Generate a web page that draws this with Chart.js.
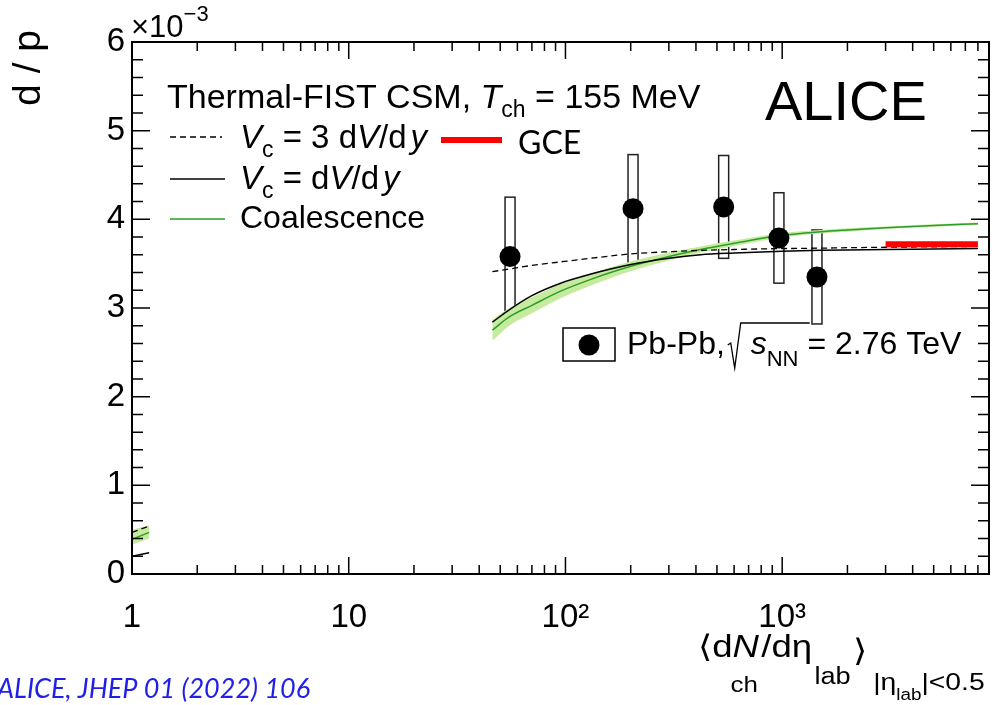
<!DOCTYPE html>
<html>
<head>
<meta charset="utf-8">
<script src="https://cdn.jsdelivr.net/npm/chart.js@4"></script>
<style>
  html, body { margin: 0; padding: 0; background: #fff; }
  #wrap { width: 992px; height: 705px; }
</style>
</head>
<body>
<div id="wrap"><canvas id="chart-dp" width="992" height="705"></canvas></div>
<script>
const SANS = '"Liberation Sans", Arial, sans-serif';
const ROUND = 'Lato, "Open Sans", sans-serif';

// Pb-Pb 2.76 TeV, d/p in units of 1e-3
const mult = [55.5, 205, 537, 966, 1447];
const ratio = [3.58, 4.12, 4.14, 3.79, 3.35];
const sysErr = [0.67, 0.61, 0.58, 0.51, 0.53];

// model curves: a short piece at low multiplicity and the main range
const modelLowX = [1, 1.2];
const modelX = [46, 55, 70, 95, 130, 200, 300, 420, 600, 1000, 1500, 2000, 3000, 5000, 8000];

const csm3Low = [0.47, 0.54];
const csm3 = [3.41, 3.44, 3.48, 3.52, 3.56, 3.61, 3.635, 3.65, 3.66, 3.67, 3.675, 3.68, 3.685, 3.69, 3.695];
const csm1Low = [0.20, 0.24];
const csm1 = [2.84, 2.98, 3.14, 3.28, 3.38, 3.49, 3.56, 3.60, 3.62, 3.64, 3.65, 3.655, 3.66, 3.665, 3.67];
const coalLow = [0.39, 0.47];
const coal = [2.75, 2.90, 3.03, 3.19, 3.32, 3.47, 3.58, 3.66, 3.73, 3.82, 3.86, 3.88, 3.905, 3.93, 3.95];
const coalUpperLow = [0.50, 0.55];
const coalUpper = [2.87, 3.00, 3.12, 3.27, 3.39, 3.525, 3.625, 3.695, 3.76, 3.845, 3.88, 3.90, 3.92, 3.945, 3.965];
const coalLowerLow = [0.33, 0.40];
const coalLower = [2.63, 2.80, 2.94, 3.11, 3.25, 3.415, 3.535, 3.625, 3.70, 3.795, 3.84, 3.86, 3.89, 3.915, 3.935];

// grand-canonical limit
const gceX = [3000, 8000];
const gce = [3.72, 3.72];

const xTickLabels = { 1: '1', 10: '10', 100: '10²', 1000: '10³' };

function series(lowY, highY) {
    return modelLowX.map((x, i) => ({ x, y: lowY[i] }))
        .concat([{ x: 10, y: null }], modelX.map((x, i) => ({ x, y: highY[i] })));
}

// draws a run of text pieces (sub/superscripts, italics) left to right;
// a piece marked keep does not move the pen
function richText(ctx, x, y, runs) {
    let cx = x;
    for (const r of runs) {
        ctx.font = (r.i ? 'italic ' : '') + r.s + 'px ' + (r.f || SANS);
        const px = cx + (r.dx || 0);
        ctx.fillText(r.t, px, y + (r.dy || 0));
        if (!r.keep) cx = px + ctx.measureText(r.t).width;
    }
    return cx;
}

function line(ctx, x1, y1, x2, y2, color, width, dash) {
    ctx.save();
    ctx.strokeStyle = color;
    ctx.lineWidth = width;
    ctx.setLineDash(dash || []);
    ctx.beginPath();
    ctx.moveTo(x1, y1);
    ctx.lineTo(x2, y2);
    ctx.stroke();
    ctx.restore();
}

const rootStyle = {
    id: 'rootStyle',
    beforeDatasetsDraw(chart) {
        // systematic uncertainty boxes
        const { ctx, scales: { x, y } } = chart;
        ctx.save();
        ctx.strokeStyle = '#222';
        ctx.lineWidth = 1.5;
        mult.forEach((m, i) => {
            const px = x.getPixelForValue(m);
            const top = y.getPixelForValue(ratio[i] + sysErr[i]);
            const bot = y.getPixelForValue(ratio[i] - sysErr[i]);
            ctx.strokeRect(px - 5, top, 10, bot - top);
        });
        ctx.restore();
    },
    afterDraw(chart) {
        const { ctx, chartArea: a, scales: { x, y } } = chart;
        ctx.save();

        // frame and inward ticks
        ctx.strokeStyle = '#000';
        ctx.lineWidth = 2;
        ctx.strokeRect(a.left, a.top, a.right - a.left, a.bottom - a.top);
        ctx.lineWidth = 1.5;
        ctx.beginPath();
        for (let k = 1; k < 30; k++) {
            const py = y.getPixelForValue(k / 5);
            const len = k % 5 === 0 ? 18 : 11;
            ctx.moveTo(a.left, py); ctx.lineTo(a.left + len, py);
            ctx.moveTo(a.right, py); ctx.lineTo(a.right - len, py);
        }
        for (const dec of [1, 10, 100, 1000]) {
            for (let m = 1; m <= 9; m++) {
                const v = m * dec;
                if (v >= 9000 || v === 1) continue;
                const px = x.getPixelForValue(v);
                const len = m === 1 ? 17 : 9;
                ctx.moveTo(px, a.bottom); ctx.lineTo(px, a.bottom - len);
                ctx.moveTo(px, a.top); ctx.lineTo(px, a.top + len);
            }
        }
        ctx.stroke();

        ctx.fillStyle = '#000';
        ctx.textAlign = 'left';
        ctx.textBaseline = 'alphabetic';

        // exponent of the y axis
        richText(ctx, 131, 37, [
            { t: '×10', s: 31 },
            { t: '−3', s: 22, dy: -16 }
        ]);

        // y axis title, aligned to the top
        ctx.save();
        ctx.translate(40, 30);
        ctx.rotate(-Math.PI / 2);
        ctx.textAlign = 'right';
        ctx.font = '39px ' + SANS;
        ctx.fillText('d / p', 0, 0);
        ctx.restore();

        // x axis title, right aligned; the pieces run a little wide
        ctx.save();
        ctx.translate(698, 657);
        ctx.scale(1.18, 1);
        richText(ctx, 0, 0, [
            { t: '⟨d', s: 31 },
            { t: 'N', s: 31, i: 1 },
            { t: 'ch', s: 22, dy: 35, dx: -24, keep: 1 },
            { t: '/dη', s: 31, dx: 2 },
            { t: 'lab', s: 23, dy: 27, dx: 2 },
            { t: '⟩', s: 31, dy: 4, dx: 2 },
            { t: '|η', s: 24, dy: 33, dx: 5 },
            { t: 'lab', s: 16, dy: 43 },
            { t: '|<0.5', s: 24, dy: 33 }
        ]);
        ctx.restore();

        // model legend
        richText(ctx, 167, 108, [
            { t: 'Thermal-FIST CSM, ', s: 34 },
            { t: 'T', s: 34, i: 1 },
            { t: 'ch', s: 23, dy: 9 },
            { t: ' = 155 MeV', s: 34 }
        ]);
        line(ctx, 170, 137, 222, 137, '#000', 1.3, [6, 4]);
        richText(ctx, 240, 148, [
            { t: 'V', s: 33, i: 1 },
            { t: 'c', s: 23, dy: 9 },
            { t: ' = 3 d', s: 33 },
            { t: 'V', s: 33, i: 1 },
            { t: '/d', s: 33 },
            { t: 'y', s: 33, i: 1, dx: 4 }
        ]);
        line(ctx, 441, 140, 502, 140, '#ff0000', 6);
        ctx.font = '32px ' + ROUND;
        ctx.fillText('GCE', 518, 154);

        line(ctx, 170, 179, 225, 179, '#000', 1.5);
        richText(ctx, 240, 189, [
            { t: 'V', s: 33, i: 1 },
            { t: 'c', s: 23, dy: 9 },
            { t: ' = d', s: 33 },
            { t: 'V', s: 33, i: 1 },
            { t: '/d', s: 33 },
            { t: 'y', s: 33, i: 1, dx: 4 }
        ]);
        line(ctx, 170, 219, 225, 219, '#2a9d2a', 1.5);
        ctx.font = '32px ' + SANS;
        ctx.fillText('Coalescence', 240, 228);

        // ALICE label
        ctx.font = '56px ' + SANS;
        ctx.fillText('ALICE', 765, 120);

        // data legend box
        ctx.fillStyle = '#fff';
        ctx.fillRect(563, 328, 52, 33);
        ctx.strokeStyle = '#000';
        ctx.lineWidth = 1.5;
        ctx.strokeRect(563, 328, 52, 33);
        ctx.fillStyle = '#000';
        ctx.beginPath();
        ctx.arc(589, 345, 10.5, 0, Math.PI * 2);
        ctx.fill();
        const rx = richText(ctx, 627, 354, [{ t: 'Pb-Pb, ', s: 32 }]);
        ctx.beginPath();
        ctx.moveTo(rx - 6, 345);
        ctx.lineTo(rx - 3, 343);
        ctx.lineTo(rx + 1, 368);
        ctx.lineTo(rx + 7, 323);
        ctx.lineTo(rx + 76, 323);
        ctx.lineWidth = 1.3;
        ctx.stroke();
        richText(ctx, rx + 17, 354, [
            { t: 's', s: 32, i: 1 },
            { t: 'NN', s: 22, dy: 12 },
            { t: ' = 2.76 TeV', s: 32 }
        ]);

        // reference
        ctx.fillStyle = '#1f1fe8';
        ctx.font = 'italic 27px ' + ROUND;
        ctx.fillText('ALICE, JHEP 01 (2022) 106', -3, 698);

        ctx.restore();
    }
};

const ctx = document.getElementById('chart-dp').getContext('2d');
const chart = new Chart(ctx, {
    type: 'line',
    data: {
        datasets: [
            {
                label: 'Coalescence band',
                data: series(coalUpperLow, coalUpper),
                fill: '+1',
                backgroundColor: '#c7eb9e',
                borderWidth: 0,
                pointRadius: 0,
                cubicInterpolationMode: 'monotone',
                order: 5
            },
            {
                label: 'Coalescence band low',
                data: series(coalLowerLow, coalLower),
                fill: false,
                borderWidth: 0,
                pointRadius: 0,
                cubicInterpolationMode: 'monotone',
                order: 5
            },
            {
                label: 'Coalescence',
                data: series(coalLow, coal),
                borderColor: '#2a9d2a',
                borderWidth: 1.5,
                pointRadius: 0,
                cubicInterpolationMode: 'monotone',
                order: 3
            },
            {
                label: 'Vc = dV/dy',
                data: series(csm1Low, csm1),
                borderColor: '#000',
                borderWidth: 1.5,
                pointRadius: 0,
                cubicInterpolationMode: 'monotone',
                order: 2
            },
            {
                label: 'Vc = 3 dV/dy',
                data: series(csm3Low, csm3),
                borderColor: '#000',
                borderWidth: 1.3,
                borderDash: [6, 4],
                pointRadius: 0,
                cubicInterpolationMode: 'monotone',
                order: 2
            },
            {
                label: 'GCE',
                data: gceX.map((x, i) => ({ x, y: gce[i] })),
                borderColor: '#ff0000',
                borderWidth: 6,
                pointRadius: 0,
                order: 1
            },
            {
                label: 'Pb-Pb',
                data: mult.map((x, i) => ({ x, y: ratio[i] })),
                showLine: false,
                pointRadius: 10.5,
                pointBackgroundColor: '#000',
                pointBorderWidth: 0,
                order: 0
            }
        ]
    },
    options: {
        responsive: false,
        animation: false,
        devicePixelRatio: 1,
        layout: { autoPadding: false, padding: { top: 42, right: 3, left: 0, bottom: 0 } },
        scales: {
            x: {
                type: 'logarithmic',
                min: 1,
                max: 9000,
                grid: { display: false, drawTicks: false },
                border: { display: false },
                afterBuildTicks: s => { s.ticks = [1, 10, 100, 1000].map(v => ({ value: v })); },
                afterFit: s => {
                    s.height = 131;
                    s.paddingLeft = 0;
                    s.paddingRight = 0;
                },
                ticks: {
                    autoSkip: false,
                    maxRotation: 0,
                    padding: 24,
                    color: '#000',
                    font: { family: SANS, size: 33 },
                    callback: v => xTickLabels[v] ?? ''
                }
            },
            y: {
                min: 0,
                max: 6,
                grid: { display: false, drawTicks: false },
                border: { display: false },
                afterFit: s => {
                    s.width = 132;
                    s.paddingTop = 0;
                    s.paddingBottom = 0;
                },
                ticks: {
                    stepSize: 1,
                    padding: 7,
                    color: '#000',
                    font: { family: SANS, size: 33 }
                }
            }
        },
        plugins: {
            legend: { display: false },
            tooltip: { enabled: false }
        }
    },
    plugins: [rootStyle]
});
</script>
</body>
</html>
